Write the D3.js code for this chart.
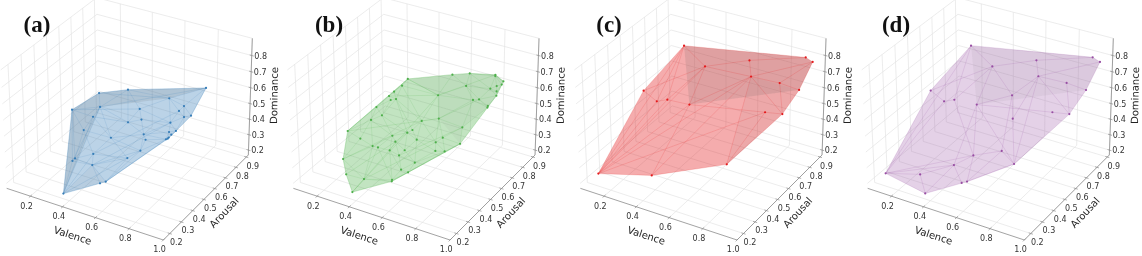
<!DOCTYPE html>
<html>
<head>
<meta charset="utf-8">
<script src="https://d3js.org/d3.v7.min.js"></script>
<style>
  body { margin: 0; background: #fff; }
  svg { display: block; filter: blur(0.3px); }
  .tick-label { font: 8px "DejaVu Sans"; fill: #333; text-anchor: middle; dominant-baseline: central; }
  .axis-label { font: 10px "DejaVu Sans"; fill: #222; text-anchor: middle; dominant-baseline: central; }
  .panel-title { font: bold 23px "Liberation Serif"; fill: #111; text-anchor: middle; dominant-baseline: central; }
</style>
</head>
<body>
<div id="chart"></div>
<script>
// values, one set of arrays per panel
const valenceA = [.370,.541,.564,.335,.343,.452,.430,.621,.669,.668,.480,.312,.325,.263,.352,.333,.483,.724,.869,.592,.605,.529,.643,.760,.787,.801,.802,.823,.755,.766,.778,.769,.763,.768];
const arousalA = [.192,.265,.281,.316,.327,.323,.362,.385,.428,.474,.443,.443,.505,.416,.529,.548,.587,.598,.707,.533,.529,.521,.494,.556,.591,.614,.614,.645,.552,.556,.579,.529,.513,.521];
const dominanceA = [.209,.281,.288,.321,.332,.328,.365,.385,.418,.456,.430,.426,.475,.557,.530,.600,.641,.652,.691,.587,.527,.492,.469,.538,.597,.617,.549,.544,.481,.465,.477,.465,.463,.463];

const valenceB = [.379,.560,.559,.408,.300,.244,.226,.283,.368,.401,.299,.314,.333,.359,.376,.403,.416,.405,.377,.644,.732,.871,.873,.899,.894,.880,.880,.879,.860,.747,.827,.809,.854,.852,.622,.669,.566,.537,.517,.445,.477,.470,.533,.550,.585,.691,.717,.776,.794,.761,.713,.636,.581,.626];
const arousalB = [.199,.281,.285,.257,.254,.304,.370,.397,.385,.385,.467,.494,.513,.540,.560,.591,.622,.536,.529,.684,.707,.726,.722,.757,.750,.726,.726,.726,.699,.653,.649,.622,.688,.688,.591,.529,.529,.490,.474,.447,.428,.389,.381,.405,.459,.471,.494,.579,.533,.447,.436,.370,.331,.327];
const dominanceB = [.217,.289,.295,.269,.266,.312,.441,.393,.380,.382,.471,.540,.481,.594,.614,.640,.667,.591,.581,.722,.741,.761,.756,.710,.693,.694,.662,.634,.689,.701,.644,.652,.587,.576,.645,.553,.507,.466,.453,.429,.414,.383,.376,.398,.440,.449,.471,.499,.431,.430,.425,.371,.335,.336];

const valenceC = [.111,.404,.769,.878,.927,.964,.944,.662,.270,.441,.256,.297,.328,.449,.711,.868,.825];
const arousalC = [.215,.269,.393,.722,.796,.858,.823,.746,.734,.676,.412,.463,.509,.529,.688,.707,.645];
const dominanceC = [.235,.283,.388,.522,.641,.787,.830,.778,.767,.720,.676,.590,.581,.574,.727,.721,.566];

const valenceD = [.111,.373,.298,.542,.566,.456,.533,.671,.769,.876,.925,.964,.942,.660,.268,.441,.257,.297,.326,.449,.620,.667,.711,.866,.825];
const arousalD = [.215,.195,.254,.269,.281,.323,.381,.428,.393,.722,.796,.858,.823,.746,.734,.676,.409,.463,.509,.529,.591,.529,.688,.707,.645];
const dominanceD = [.237,.209,.265,.281,.289,.329,.376,.417,.390,.521,.640,.787,.830,.778,.767,.720,.679,.590,.580,.574,.644,.552,.729,.721,.566];

// mesh edges that could be followed in panels c and d
const edgesC = [[8,9],[9,12],[9,13],[8,12],[8,11],[10,11],[11,12],[10,9],[13,16],[12,13],[9,14],[7,14],[7,6],[7,9],[14,5],[14,15],[14,3],[15,4],[15,3],[15,5],[16,3],[16,0],[14,0],[14,1],[14,2],[13,0],[11,0],[12,0],[9,0],[8,0],[13,1],[16,2],[13,14]];
const edgesD = [[14,15],[14,18],[14,0],[15,19],[15,18],[16,17],[17,18],[16,15],[19,24],[19,8],[19,6],[19,5],[15,20],[20,21],[21,8],[20,19],[22,8],[22,21],[22,20],[13,22],[13,15],[13,12],[22,11],[22,23],[23,9],[23,10],[22,9],[24,9],[8,7],[7,6],[6,5],[5,2],[5,1],[2,1],[2,0],[5,3],[7,4],[6,4],[4,8],[0,5],[0,17],[0,6],[18,6],[20,7]];
// long edges in panels a and b that a flat triangulation misses
const edgesA = [[0,14],[0,12],[0,6],[0,7],[5,23],[6,24],[5,8],[3,14],[13,19],[14,18],[15,17],[12,21]];
const edgesB = [[0,34],[0,38],[3,45],[4,40],[5,36],[6,35],[16,34],[34,21],[13,34],[35,30],[42,47],[1,48]];

const valenceTicks = [0.2, 0.4, 0.6, 0.8, 1.0];
const arousalTicks = [0.2, 0.3, 0.4, 0.5, 0.6, 0.7, 0.8, 0.9];
const dominanceTicks = [0.2, 0.3, 0.4, 0.5, 0.6, 0.7, 0.8];

const panels = [
    { title: "(a)", v: valenceA, a: arousalA, d: dominanceA, color: "#377eb8", fill: 0.34, offset: 0, titleX: 37,
      edges: edgesA, useDelaunay: true,
      shade: [{ idx: [0, 13, 15, 16, 18, 17, 14], alpha: 0.13 }, { idx: [0, 2, 5], alpha: 0.05 }] },
    { title: "(b)", v: valenceB, a: arousalB, d: dominanceB, color: "#4daf4a", fill: 0.34, offset: 286.7, titleX: 329,
      edges: edgesB, useDelaunay: true,
      shade: [{ idx: [16, 19, 20, 21, 23, 27, 33, 47, 48, 35, 34], alpha: 0.05 }] },
    { title: "(c)", v: valenceC, a: arousalC, d: dominanceC, color: "#e41a1c", fill: 0.36, offset: 573.7, titleX: 609,
      edges: edgesC, useDelaunay: false,
      shade: [{ idx: [8, 6, 5, 4, 13], alpha: 0.14 }, { idx: [14, 2, 3, 4], alpha: 0.05 }] },
    { title: "(d)", v: valenceD, a: arousalD, d: dominanceD, color: "#984ea3", fill: 0.26, offset: 861, titleX: 896,
      edges: edgesD, useDelaunay: false,
      shade: [{ idx: [14, 12, 11, 10, 19], alpha: 0.06 }] }
];

const vLim = [0.05, 1.0], aLim = [0.145, 0.92], dLim = [0.168, 0.905];
const xs = d3.scaleLinear().domain(vLim).range([0, 1]);
const ys = d3.scaleLinear().domain(aLim).range([0, 1]);
const zs = d3.scaleLinear().domain(dLim).range([0, 1]);

// camera fitted to the box corners, gives pixels inside a panel
function project(v, a, d) {
    const x = xs(v), y = ys(a), z = zs(d);
    const w = 1 - 0.04774 * x + 0.07389 * y - 0.04 * z;
    return [
        (20 + 446.6 * x + 297.9 * y - 18 * z) / w / 3,
        (565 + 120.6 * x - 208.5 * y - 363.7 * z) / w / 3
    ];
}

const svg = d3.select("#chart").append("svg").attr("width", 1142).attr("height", 256);
const line = d3.line();

panels.forEach(p => {
    const g = svg.append("g").attr("transform", "translate(" + p.offset + ",0)");
    const seg = (from, to, color, width) => g.append("path")
        .attr("d", line([project(...from), project(...to)]))
        .attr("fill", "none").attr("stroke", color).attr("stroke-width", width);

    // grid on the floor and both walls
    const gridColor = "#e4e4e4";
    valenceTicks.forEach(t => {
        seg([t, aLim[0], dLim[0]], [t, aLim[1], dLim[0]], gridColor, 0.7);
        seg([t, aLim[1], dLim[0]], [t, aLim[1], dLim[1]], gridColor, 0.7);
    });
    arousalTicks.forEach(t => {
        seg([vLim[0], t, dLim[0]], [vLim[1], t, dLim[0]], gridColor, 0.7);
        seg([vLim[0], t, dLim[0]], [vLim[0], t, dLim[1]], gridColor, 0.7);
    });
    dominanceTicks.forEach(t => {
        seg([vLim[0], aLim[0], t], [vLim[0], aLim[1], t], gridColor, 0.7);
        seg([vLim[0], aLim[1], t], [vLim[1], aLim[1], t], gridColor, 0.7);
    });
    seg([vLim[0], aLim[1], dLim[1]], [vLim[1], aLim[1], dLim[1]], gridColor, 0.7);
    seg([vLim[0], aLim[0], dLim[1]], [vLim[0], aLim[1], dLim[1]], gridColor, 0.7);

    // the three visible axes
    const axisColor = "#8c8c8c";
    seg([vLim[0], aLim[0], dLim[0]], [vLim[1], aLim[0], dLim[0]], axisColor, 0.8);
    seg([vLim[1], aLim[0], dLim[0]], [vLim[1], aLim[1], dLim[0]], axisColor, 0.8);
    seg([vLim[1], aLim[1], dLim[0]], [vLim[1], aLim[1], dLim[1]], axisColor, 0.8);

    const label = (pt, dx, dy, text) => g.append("text").attr("class", "tick-label")
        .attr("x", pt[0] + dx).attr("y", pt[1] + dy).text(text);

    valenceTicks.forEach(t => {
        seg([t, aLim[0] - 0.012, dLim[0]], [t, aLim[0] + 0.012, dLim[0]], axisColor, 0.7);
        label(project(t, aLim[0], dLim[0]), -3.8, 10, t.toFixed(1));
    });
    arousalTicks.forEach(t => {
        seg([vLim[1] - 0.012, t, dLim[0]], [vLim[1] + 0.012, t, dLim[0]], axisColor, 0.7);
        label(project(vLim[1], t, dLim[0]), 6.5, 9, t.toFixed(1));
    });
    dominanceTicks.forEach(t => {
        seg([vLim[1] - 0.012, aLim[1], t], [vLim[1] + 0.012, aLim[1], t], axisColor, 0.7);
        label(project(vLim[1], aLim[1], t), 9, 0.5, t.toFixed(1));
    });

    g.append("text").attr("class", "axis-label")
        .attr("transform", "translate(72.7,235.5) rotate(18)").text("Valence");
    g.append("text").attr("class", "axis-label")
        .attr("transform", "translate(224,212.5) rotate(-47)").text("Arousal");
    g.append("text").attr("class", "axis-label")
        .attr("transform", "translate(274,95.5) rotate(-89)").text("Dominance");

    // hull, darker far side and the mesh
    const pts = p.v.map((v, i) => project(v, p.a[i], p.d[i]));
    const poly = idx => "M" + idx.map(i => pts[i].join(",")).join("L") + "Z";

    g.append("path")
        .attr("d", "M" + d3.polygonHull(pts).join("L") + "Z")
        .attr("fill", p.color).attr("fill-opacity", p.fill)
        .attr("stroke", p.color).attr("stroke-opacity", 0.3).attr("stroke-width", 0.6);
    p.shade.forEach(s => {
        g.append("path").attr("d", poly(s.idx)).attr("fill", "#5a5a5a").attr("fill-opacity", s.alpha);
    });

    const meshOpacity = 0.26;
    if (p.useDelaunay) {
        g.append("path")
            .attr("d", d3.Delaunay.from(pts).render())
            .attr("fill", "none").attr("stroke", p.color).attr("stroke-opacity", meshOpacity).attr("stroke-width", 0.5);
    }
    g.append("path")
        .attr("d", p.edges.map(e => "M" + pts[e[0]].join(",") + "L" + pts[e[1]].join(",")).join(""))
        .attr("fill", "none").attr("stroke", p.color).attr("stroke-opacity", meshOpacity).attr("stroke-width", 0.6);

    g.selectAll("circle").data(pts).join("circle")
        .attr("cx", d => d[0]).attr("cy", d => d[1]).attr("r", 1.1)
        .attr("fill", p.color);

    svg.append("text").attr("class", "panel-title").attr("x", p.titleX).attr("y", 24.5).text(p.title);
});
</script>
</body>
</html>
